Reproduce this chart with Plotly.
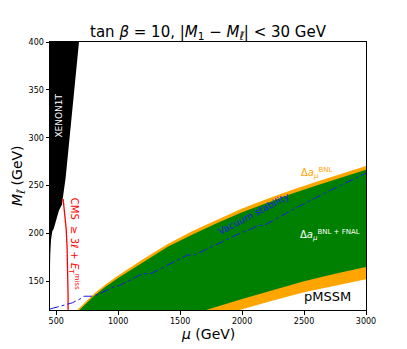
import plotly.graph_objects as go

# ---- data ----
# upper edge of the BNL (orange) band
bnl_top_mu = [670, 700, 800, 900, 1000, 1200, 1400, 1600, 1800, 2000, 2200, 2400, 2600, 2800, 3000]
bnl_top_m = [120, 124, 136.5, 147, 156, 173, 189, 202.5, 214.5, 226, 236, 245.5, 254, 262.5, 270.5]
# lower edge of the BNL (orange) band
bnl_bot_mu = [1980, 2250, 2500, 2750, 3000]
bnl_bot_m = [120, 130, 138.5, 145.5, 152]
# upper edge of the BNL+FNAL (green) band
fnal_top_mu = [689, 700, 800, 900, 1000, 1200, 1400, 1600, 1800, 2000, 2200, 2400, 2600, 2800, 3000]
fnal_top_m = [120, 121.5, 134, 144.5, 153.5, 170, 186, 199, 211, 222, 232, 241.5, 250, 258.5, 266.5]
# lower edge of the BNL+FNAL (green) band
fnal_bot_mu = [1710, 2000, 2250, 2500, 2750, 3000]
fnal_bot_m = [120, 131.5, 141, 150, 158, 165]
# vacuum stability contour
vac_mu = [450, 540, 630, 700, 724, 792, 850, 981, 1000, 1197, 1265, 1400, 1562, 1616, 1800, 1980, 2062,
          2125, 2180, 2440, 2711, 3000]
vac_m = [121, 124, 127.5, 132, 134.4, 134.4, 137, 145, 145, 158, 158, 167, 177.5, 177.5, 189, 200, 204,
         208, 208.5, 227, 245, 263]
# XENON1T excluded region (outline)
xenon_mu = [450, 684, 576, 546, 522, 505, 492, 480, 468, 458, 452, 450]
xenon_m = [400, 400, 258, 230, 224, 216, 211, 205, 202, 193, 178, 164]
# CMS >= 3l + MET limit
cms_mu = [556, 568, 581, 588, 593, 595, 596, 596]
cms_m = [236, 220, 204, 185, 165, 150, 135, 120]

x_ticks = [500, 1000, 1500, 2000, 2500, 3000]
y_ticks = [150, 200, 250, 300, 350, 400]
x_range = [450, 3000]
y_range = [120, 400]

GREEN = "#008000"
ORANGE = "#FFA500"
BLUE = "#1a1ae6"
FONT = "DejaVu Sans"

fig = go.Figure()

# orange band (BNL)
fig.add_trace(go.Scatter(
    x=bnl_top_mu + bnl_bot_mu[::-1],
    y=bnl_top_m + bnl_bot_m[::-1],
    fill="toself", fillcolor=ORANGE, mode="lines", line=dict(width=0),
    hoverinfo="skip", showlegend=False))
# green band (BNL + FNAL)
fig.add_trace(go.Scatter(
    x=fnal_top_mu + fnal_bot_mu[::-1],
    y=fnal_top_m + fnal_bot_m[::-1],
    fill="toself", fillcolor=GREEN, mode="lines", line=dict(width=0),
    hoverinfo="skip", showlegend=False))
# XENON1T
fig.add_trace(go.Scatter(
    x=xenon_mu, y=xenon_m, fill="toself", fillcolor="black", mode="lines",
    line=dict(width=0), hoverinfo="skip", showlegend=False))
# CMS
fig.add_trace(go.Scatter(
    x=cms_mu, y=cms_m, mode="lines", line=dict(color="red", width=1.3),
    hoverinfo="skip", showlegend=False))
# vacuum stability
fig.add_trace(go.Scatter(
    x=vac_mu, y=vac_m, mode="lines", line=dict(color=BLUE, width=1, dash="dashdot"),
    hoverinfo="skip", showlegend=False))

ann = [
    dict(x=522, y=323, text="XENON1T", textangle=-90, font=dict(color="white", size=9, family=FONT)),
    dict(x=645, y=189, text="CMS  ≥ 3<i>ℓ</i> + <i>E</i><sub>T</sub><sup>miss</sup>", textangle=90,
         font=dict(color="red", size=10, family=FONT)),
    dict(x=2095, y=221, text="Vacuum stability", textangle=-27.6,
         font=dict(color=BLUE, size=9.5, family=FONT)),
    dict(x=2602, y=263, text="Δ<i>a</i><sub><i>μ</i></sub><sup>BNL</sup>",
         font=dict(color=ORANGE, size=10, family=FONT)),
    dict(x=2710, y=198.6, text="Δ<i>a</i><sub><i>μ</i></sub><sup>BNL + FNAL</sup>",
         font=dict(color="white", size=10, family=FONT)),
    dict(x=2691, y=134, text="pMSSM", font=dict(color="black", size=13, family=FONT)),
]
annotations = []
for a in ann:
    a.update(xref="x", yref="y", showarrow=False, xanchor="center", yanchor="middle")
    annotations.append(a)

# axis titles
annotations.append(dict(xref="paper", yref="paper", x=0.5, y=0, yshift=-24, showarrow=False,
                        xanchor="center", yanchor="middle", text="<i>μ</i> (GeV)",
                        font=dict(size=14, color="black", family=FONT)))
annotations.append(dict(xref="paper", yref="paper", x=0, y=0.5, xshift=-32, showarrow=False,
                        xanchor="center", yanchor="middle", textangle=-90,
                        text="<i>M</i><sub><i>ℓ̃</i></sub> (GeV)",
                        font=dict(size=14, color="black", family=FONT)))

fig.update_layout(
    width=407, height=349,
    margin=dict(l=50, r=41, t=42, b=39),
    paper_bgcolor="white", plot_bgcolor="white",
    font=dict(family=FONT, color="black"),
    title=dict(text="tan <i>β</i> = 10, |<i>M</i><sub>1</sub> − <i>M</i><sub><i>ℓ̃</i></sub>| &lt; 30 GeV",
               x=0.5, xref="paper", y=1 - 32 / 349, yref="container", xanchor="center", yanchor="middle",
               font=dict(size=15, color="black", family=FONT)),
    annotations=annotations,
    showlegend=False,
)
axis_common = dict(showline=True, mirror=True, linecolor="black", linewidth=1, ticks="outside",
                   ticklen=3.5, tickwidth=1, tickcolor="black", showgrid=False, zeroline=False,
                   tickfont=dict(size=8, color="black", family=FONT))
fig.update_xaxes(range=x_range, tickvals=x_ticks, ticktext=[str(v) for v in x_ticks], **axis_common)
fig.update_yaxes(range=y_range, tickvals=y_ticks, ticktext=[str(v) for v in y_ticks], **axis_common)

fig.write_html("out.html", config={"displayModeBar": False},
               post_script="document.body.style.margin='0';document.body.style.overflow='hidden';")
